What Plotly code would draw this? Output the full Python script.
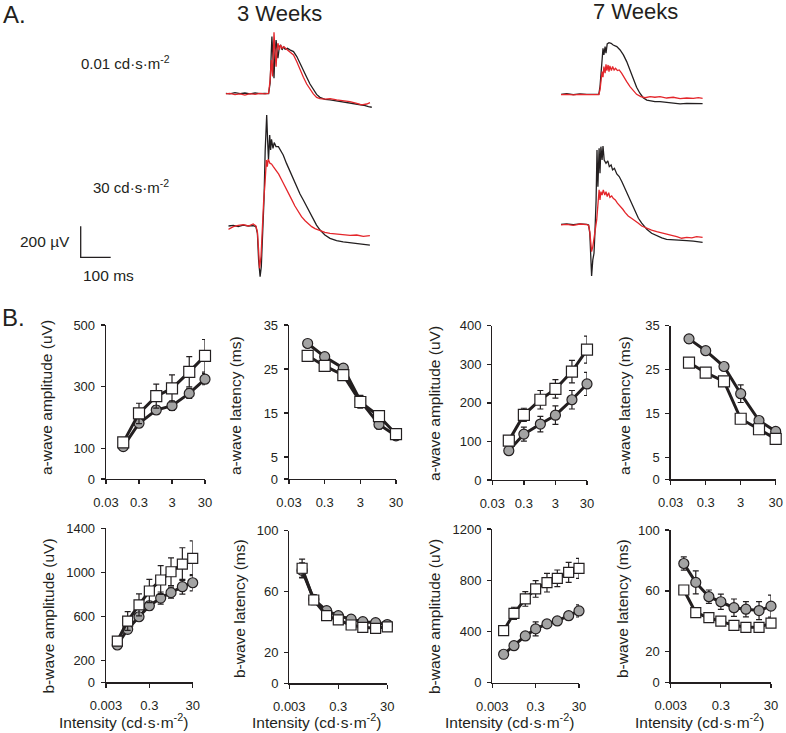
import math
import plotly.graph_objects as go

W, H = 786, 733
FONT = "Liberation Sans, Arial, sans-serif"
INK = "#231f20"
RED = "#e4262b"

# ---------------- Panel A: ERG traces (time in ms from sweep start, voltage in µV re. baseline)
T1_BLACK_T = [0, 14, 31, 48, 64, 81, 98, 114, 131, 143, 148, 151, 154, 158, 161, 164, 168, 171, 174, 179,
              183, 188, 192, 198, 206, 214, 226, 237, 248, 259, 270, 281, 292, 303, 314, 331, 348, 370, 392, 414,
              437, 459, 476, 487]
T1_BLACK_V = [0, -4, 4, -2, 2, -4, 2, -2, 0, -2, 65, 301, 366, 215, 97, 258, 344, 280, 226, 301,
              312, 280, 301, 284, 290, 280, 269, 237, 189, 146, 103, 60, 26, -7, -26, -39, -43, -50, -54, -65,
              -71, -77, -86, -90]
T1_RED_T = [0, 14, 31, 48, 64, 81, 98, 114, 131, 143, 148, 152, 156, 159, 161, 164, 168, 171, 174, 179,
            183, 188, 194, 203, 214, 226, 237, 248, 259, 270, 281, 292, 303, 314, 331, 348, 370, 392, 414, 437,
            453, 470, 481]
T1_RED_V = [-4, 0, -9, -4, -11, -2, -7, 0, -4, 0, 86, 215, 108, 301, 394, 280, 172, 280, 323, 280,
            312, 290, 301, 284, 269, 247, 204, 151, 103, 60, 26, -4, -26, -34, -37, -34, -43, -47, -54, -65,
            -75, -69, -60]

T2_BLACK_T = [0, 17, 33, 50, 67, 83, 92, 97, 101, 106, 110, 114, 119, 123, 128, 131, 134, 138, 141, 144,
              149, 153, 159, 167, 174, 183, 194, 206, 217, 228, 239, 250, 261, 272, 283, 294, 306, 322, 339, 361,
              383, 406, 428, 450, 472]
T2_BLACK_V = [0, 4, -4, 6, 0, 2, -4, -47, -219, -327, -262, -90, 168, 490, 716, 555, 426, 587, 490, 559,
              501, 538, 512, 512, 490, 458, 404, 351, 301, 254, 206, 168, 125, 82, 43, 6, -26, -58, -80, -95,
              -103, -108, -112, -118, -123]
T2_RED_T = [0, 17, 33, 50, 67, 83, 92, 97, 101, 104, 109, 113, 118, 122, 127, 130, 133, 139, 144, 150,
            159, 168, 178, 189, 200, 211, 222, 233, 244, 256, 267, 278, 289, 306, 322, 339, 361, 383, 406, 428,
            450, 472]
T2_RED_V = [-22, -4, 4, 9, 0, 13, 0, -37, -155, -273, -198, -4, 168, 265, 426, 383, 430, 404, 400, 383,
            361, 335, 297, 258, 211, 172, 129, 93, 60, 34, 13, -4, -17, -30, -41, -47, -52, -56, -60, -58,
            -67, -62]

T3_BLACK_T = [0, 19, 41, 63, 86, 108, 126, 130, 133, 137, 140, 143, 147, 150, 154, 160, 167, 174, 186, 197,
              208, 219, 230, 241, 252, 263, 274, 286, 297, 313, 330, 352, 374, 397, 419, 441, 458, 472]
T3_BLACK_V = [0, 4, -2, 2, 0, 2, 0, 50, 136, 243, 297, 254, 308, 265, 325, 333, 329, 318, 308, 286,
              254, 211, 157, 103, 45, 7, -22, -37, -43, -47, -47, -52, -58, -62, -58, -60, -58, -60]
T3_RED_T = [0, 19, 41, 63, 86, 108, 126, 130, 133, 137, 140, 143, 147, 150, 153, 157, 160, 163, 168, 172,
            177, 182, 188, 194, 202, 210, 219, 230, 241, 252, 266, 280, 297, 313, 330, 352, 374, 397, 419, 441,
            458, 472]
T3_RED_V = [-2, 0, -4, 0, -2, 0, -2, 28, 71, 146, 110, 179, 136, 194, 153, 189, 146, 183, 153, 179,
            157, 168, 153, 157, 136, 114, 82, 50, 22, 0, -15, -22, -15, -19, -15, -24, -19, -28, -24, -26,
            -22, -26]

T4_BLACK_T = [0, 19, 41, 63, 86, 92, 96, 99, 102, 106, 110, 113, 117, 120, 123, 127, 130, 133, 137, 140,
              144, 150, 156, 161, 167, 172, 178, 186, 194, 203, 213, 224, 236, 247, 258, 269, 286, 302, 319, 336,
              352, 374, 397, 419, 441, 458, 472]
T4_BLACK_V = [0, 2, -2, 2, 0, -4, -58, -209, -333, -230, -187, -58, 157, 480, 243, 490, 329, 501, 415, 505,
              415, 394, 409, 372, 383, 351, 361, 325, 308, 275, 232, 179, 125, 82, 39, 7, -32, -58, -75, -88,
              -97, -101, -105, -105, -108, -112, -116]
T4_RED_T = [0, 19, 41, 63, 86, 92, 96, 99, 102, 106, 110, 114, 119, 123, 127, 130, 133, 137, 141, 146,
            150, 154, 159, 163, 169, 174, 181, 188, 197, 206, 214, 224, 236, 247, 258, 269, 286, 302, 319, 336,
            352, 369, 386, 402, 419, 436, 452, 472]
T4_RED_V = [-4, 0, -7, 2, -2, -7, -47, -123, -176, -144, -101, -37, 28, 114, 222, 157, 211, 189, 222, 189,
            211, 179, 204, 174, 183, 168, 157, 136, 118, 97, 75, 54, 37, 24, 7, -11, -26, -37, -47, -54,
            -62, -71, -80, -90, -84, -88, -80, -84]

SCALE_MS = 100
SCALE_UV = 200

# ---------------- Panel B data
INT_A = [0.1, 0.3, 1, 3, 10, 30]
INT_B = [0.01, 0.03, 0.1, 0.3, 1, 3, 10, 30]
TICKS_A = [0.03, 0.3, 3, 30]
TICKLBL_A = ["0.03", "0.3", "3", "30"]
TICKS_B = [0.003, 0.3, 30]
TICKLBL_B = ["0.003", "0.3", "30"]

AAMP_3W_CIRC = [105, 181, 224, 238, 278, 324]
AAMP_3W_CIRC_ERR = [8, 12, 14, 15, 16, 18]
AAMP_3W_SQ = [119, 213, 269, 294, 348, 400]
AAMP_3W_SQ_ERR = [12, 33, 39, 44, 49, 53]

ALAT_3W_CIRC = [30.8, 27.8, 25.2, 17.8, 12.4, 9.8]
ALAT_3W_CIRC_ERR = [0.6, 0.6, 0.7, 1.2, 1.0, 0.6]
ALAT_3W_SQ = [28.0, 25.7, 23.6, 17.5, 14.3, 10.2]
ALAT_3W_SQ_ERR = [0.6, 0.6, 0.7, 1.4, 1.0, 0.6]

AAMP_7W_CIRC = [76, 119, 145, 168, 208, 249]
AAMP_7W_CIRC_ERR = [8, 18, 20, 24, 24, 30]
AAMP_7W_SQ = [102, 169, 208, 236, 281, 338]
AAMP_7W_SQ_ERR = [10, 17, 24, 24, 29, 35]

ALAT_7W_CIRC = [32.0, 29.3, 25.7, 19.5, 13.4, 10.9]
ALAT_7W_CIRC_ERR = [1.0, 0.6, 0.8, 2.0, 0.8, 0.6]
ALAT_7W_SQ = [26.6, 24.3, 22.3, 13.8, 11.4, 9.2]
ALAT_7W_SQ_ERR = [0.5, 0.5, 0.6, 0.8, 0.5, 0.5]

BAMP_3W_CIRC = [339, 482, 596, 696, 766, 815, 869, 905]
BAMP_3W_CIRC_ERR = [15, 25, 30, 40, 55, 50, 67, 73]
BAMP_3W_SQ = [375, 557, 703, 830, 930, 1005, 1075, 1127]
BAMP_3W_SQ_ERR = [20, 85, 100, 106, 130, 127, 148, 158]

BLAT_3W_CIRC = [74, 55, 47.6, 44.3, 42, 40.4, 39.7, 38.5]
BLAT_3W_CIRC_ERR = [5, 3, 2, 1.5, 1.5, 1.5, 1.5, 1.5]
BLAT_3W_SQ = [75.4, 54.6, 44.3, 41.5, 38.2, 36.7, 36.0, 37.0]
BLAT_3W_SQ_ERR = [6, 3, 2, 1.5, 1.5, 1.5, 1.5, 1.5]

BAMP_7W_CIRC = [222, 289, 365, 420, 459, 482, 523, 560]
BAMP_7W_CIRC_ERR = [20, 22, 25, 55, 25, 25, 30, 47]
BAMP_7W_SQ = [406, 542, 654, 732, 781, 815, 862, 893]
BAMP_7W_SQ_ERR = [15, 47, 57, 65, 73, 65, 78, 78]

BLAT_7W_CIRC = [78, 65.6, 56.2, 52.9, 49, 48, 47.1, 50]
BLAT_7W_CIRC_ERR = [4.4, 7.6, 4.4, 5, 5.7, 5, 5.9, 7.2]
BLAT_7W_SQ = [60.6, 45.7, 42.4, 40.2, 37.4, 36.1, 36.1, 38.9]
BLAT_7W_SQ_ERR = [1, 1, 1, 1, 1, 1, 1, 1]

Y_TITLES = ["a-wave amplitude (uV)", "a-wave latency (ms)", "a-wave amplitude (uV)", "a-wave latency (ms)",
            "b-wave amplitude (uV)", "b-wave latency (ms)", "b-wave amplitude (uV)", "b-wave latency (ms)"]
X_TITLE = "Intensity (cd·s·m<sup>-2</sup>)"


def fx(p):
    return p / W


def fy(p):
    return 1 - p / H


fig = go.Figure()
layout = {}
annotations = []

# ---------------- Panel B subplots
panels = [
    (106, 205, 325, 479, 0.03, 30, 500, [0, 100, 300, 500], INT_A,
     AAMP_3W_CIRC, AAMP_3W_CIRC_ERR, AAMP_3W_SQ, AAMP_3W_SQ_ERR, (46, 398)),
    (289, 396, 325, 479, 0.03, 30, 35, [0, 5, 15, 25, 35], INT_A,
     ALAT_3W_CIRC, ALAT_3W_CIRC_ERR, ALAT_3W_SQ, ALAT_3W_SQ_ERR, (235, 405)),
    (492.3, 587, 325.7, 480, 0.03, 30, 400, [0, 100, 200, 300, 400], INT_A,
     AAMP_7W_CIRC, AAMP_7W_CIRC_ERR, AAMP_7W_SQ, AAMP_7W_SQ_ERR, (434, 404)),
    (670.7, 775.7, 325.7, 479.3, 0.03, 30, 35, [0, 5, 15, 25, 35], INT_A,
     ALAT_7W_CIRC, ALAT_7W_CIRC_ERR, ALAT_7W_SQ, ALAT_7W_SQ_ERR, (624, 406)),
    (106, 192.7, 528.3, 682.3, 0.003, 30, 1400, [0, 200, 600, 1000, 1400], INT_B,
     BAMP_3W_CIRC, BAMP_3W_CIRC_ERR, BAMP_3W_SQ, BAMP_3W_SQ_ERR, (47.5, 616)),
    (289.3, 387.3, 530.7, 683.3, 0.003, 30, 100, [0, 20, 60, 100], INT_B,
     BLAT_3W_CIRC, BLAT_3W_CIRC_ERR, BLAT_3W_SQ, BLAT_3W_SQ_ERR, (239, 609)),
    (492.3, 579, 529, 682.7, 0.003, 30, 1200, [0, 400, 800, 1200], INT_B,
     BAMP_7W_CIRC, BAMP_7W_CIRC_ERR, BAMP_7W_SQ, BAMP_7W_SQ_ERR, (434, 617)),
    (670.7, 771, 530, 682.3, 0.003, 30, 100, [0, 20, 60, 100], INT_B,
     BLAT_7W_CIRC, BLAT_7W_CIRC_ERR, BLAT_7W_SQ, BLAT_7W_SQ_ERR, (622, 609)),
]

for k, (x0, x1, yt, yb, xlo, xhi, ymax, yticks, X, c, ce, s, se, tpos) in enumerate(panels, start=1):
    sfx = "" if k == 1 else str(k)
    is_a = xlo == 0.03
    layout["xaxis" + sfx] = dict(
        domain=[fx(x0), fx(x1)], type="log", range=[math.log10(xlo), math.log10(xhi)],
        anchor="y" + sfx, tickvals=TICKS_A if is_a else TICKS_B,
        ticktext=TICKLBL_A if is_a else TICKLBL_B,
        showline=True, linecolor=INK, linewidth=1.3, ticks="outside", ticklen=4,
        tickwidth=1.3, tickcolor=INK, showgrid=False, zeroline=False, automargin=False,
        tickfont=dict(family=FONT, size=13, color=INK), ticklabelstandoff=7, fixedrange=True)
    layout["yaxis" + sfx] = dict(
        domain=[fy(yb), fy(yt)], range=[0, ymax], anchor="x" + sfx, tickvals=yticks,
        showline=True, linecolor=INK, linewidth=1.3, ticks="outside", ticklen=4,
        tickwidth=1.3, tickcolor=INK, showgrid=False, zeroline=False, automargin=False,
        tickfont=dict(family=FONT, size=13, color=INK), ticklabelstandoff=3, fixedrange=True)
    err = dict(type="data", color=INK, thickness=1.2, width=3)
    fig.add_trace(go.Scatter(
        x=X, y=c, error_y=dict(err, array=ce), mode="lines+markers",
        line=dict(color=INK, width=3),
        marker=dict(symbol="circle", size=10, color="#a3a3a3", line=dict(color=INK, width=1.2)),
        xaxis="x" + sfx, yaxis="y" + sfx, cliponaxis=False, showlegend=False))
    fig.add_trace(go.Scatter(
        x=X, y=s, error_y=dict(err, array=se), mode="lines+markers",
        line=dict(color=INK, width=3),
        marker=dict(symbol="square", size=11 if is_a else 10, color="white", line=dict(color=INK, width=1.2)),
        xaxis="x" + sfx, yaxis="y" + sfx, cliponaxis=False, showlegend=False))
    annotations.append(dict(text=Y_TITLES[k - 1], x=fx(tpos[0]), y=fy(tpos[1]), xref="paper", yref="paper",
                            textangle=-90, showarrow=False, xanchor="center", yanchor="middle",
                            font=dict(family=FONT, size=15.5, color=INK)))

for xc in (123, 316, 509, 699):
    annotations.append(dict(text=X_TITLE, x=fx(xc), y=fy(721), xref="paper", yref="paper",
                            showarrow=False, xanchor="center", yanchor="middle",
                            font=dict(family=FONT, size=15.5, color=INK)))

# ---------------- Panel A trace axes
PX_PER_MS = 30 / 100.0
PX_PER_UV = 31 / 200.0
SPAN_PX = 175

trace_sets = [
    (9, 225.7, 93.3, 85, 60, T1_BLACK_T, T1_BLACK_V, T1_RED_T, T1_RED_V),
    (10, 228.3, 226.0, 125, 60, T2_BLACK_T, T2_BLACK_V, T2_RED_T, T2_RED_V),
    (11, 561.0, 94.3, 85, 60, T3_BLACK_T, T3_BLACK_V, T3_RED_T, T3_RED_V),
    (12, 561.0, 224.3, 125, 60, T4_BLACK_T, T4_BLACK_V, T4_RED_T, T4_RED_V),
]
for idx, x0, base, up, down, bt, bv, rt, rv in trace_sets:
    sfx = str(idx)
    layout["xaxis" + sfx] = dict(domain=[fx(x0), fx(x0 + SPAN_PX)], range=[0, SPAN_PX / PX_PER_MS],
                                 visible=False, anchor="y" + sfx, fixedrange=True, automargin=False)
    layout["yaxis" + sfx] = dict(domain=[fy(base + down), fy(base - up)],
                                 range=[-down / PX_PER_UV, up / PX_PER_UV],
                                 visible=False, anchor="x" + sfx, fixedrange=True, automargin=False)
    fig.add_trace(go.Scatter(x=bt, y=bv, mode="lines", line=dict(color=INK, width=1.3),
                             xaxis="x" + sfx, yaxis="y" + sfx, showlegend=False, cliponaxis=False))
    fig.add_trace(go.Scatter(x=rt, y=rv, mode="lines", line=dict(color=RED, width=1.3),
                             xaxis="x" + sfx, yaxis="y" + sfx, showlegend=False, cliponaxis=False))

# scale bar
SB_X, SB_Y = 80.7, 257.3
layout["xaxis13"] = dict(domain=[fx(SB_X - 10), fx(SB_X + 60)], range=[-10 / PX_PER_MS, 60 / PX_PER_MS],
                         visible=False, anchor="y13", fixedrange=True, automargin=False)
layout["yaxis13"] = dict(domain=[fy(SB_Y + 10), fy(SB_Y - 45)], range=[-10 / PX_PER_UV, 45 / PX_PER_UV],
                         visible=False, anchor="x13", fixedrange=True, automargin=False)
fig.add_trace(go.Scatter(x=[0, 0, SCALE_MS], y=[SCALE_UV, 0, 0], mode="lines",
                         line=dict(color=INK, width=1.3), xaxis="x13", yaxis="y13",
                         showlegend=False, cliponaxis=False))


def label(text, xp, yp, size, xanchor="left"):
    annotations.append(dict(text=text, x=fx(xp), y=fy(yp), xref="paper", yref="paper", showarrow=False,
                            xanchor=xanchor, yanchor="middle", font=dict(family=FONT, size=size, color=INK)))


label("A.", 1, 15, 24)
label("3 Weeks", 279, 13.5, 22, "center")
label("7 Weeks", 635, 12, 22, "center")
label("0.01 cd·s·m<sup>-2</sup>", 79, 62, 15)
label("30 cd·s·m<sup>-2</sup>", 91, 187, 15)
label("200 µV", 72, 241.5, 15.5, "right")
label("100 ms", 81, 275, 15.5)
label("B.", 0, 317, 24)

fig.update_layout(**layout)
fig.update_layout(width=W, height=H, margin=dict(l=0, r=0, t=0, b=0, pad=0, autoexpand=False),
                  paper_bgcolor="white", plot_bgcolor="rgba(0,0,0,0)",
                  annotations=annotations, showlegend=False)

fig.write_html("out.html", config={"displayModeBar": False, "staticPlot": True},
               post_script="document.body.style.margin='0';document.body.style.overflow='hidden';")
